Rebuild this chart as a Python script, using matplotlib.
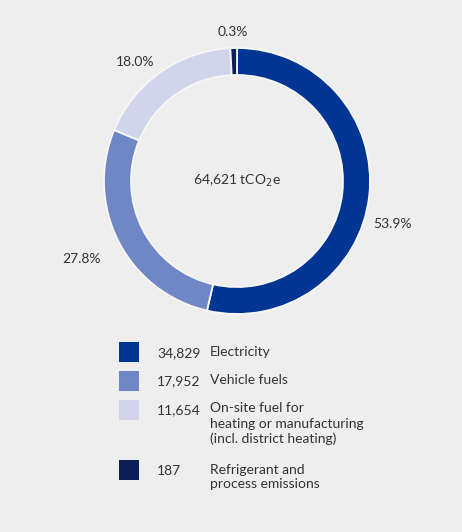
import matplotlib
matplotlib.use("Agg")
import matplotlib.pyplot as plt
from matplotlib.patches import Rectangle

categories = ["Electricity", "Vehicle fuels",
              "On-site fuel for\nheating or manufacturing\n(incl. district heating)",
              "Refrigerant and\nprocess emissions"]
values = [34829, 17952, 11654, 187]
value_labels = ["34,829", "17,952", "11,654", "187"]
pct_labels = ["53.9%", "27.8%", "18.0%", "0.3%"]
total_label = "64,621 tCO$_2$e"
colors = ["#003594", "#6f87c4", "#d0d5ec", "#0b1f56"]

W, H = 462, 532
bg = "#eeeeee"
plt.rcParams['font.family'] = ['Lato', 'DejaVu Sans']

fig = plt.figure(figsize=(W / 100, H / 100), dpi=100, facecolor=bg)
ax = fig.add_axes([0, 0, 1, 1])
ax.set_facecolor(bg)

# minimum visible slice size (as in the reference rendering)
total = sum(values)
disp = [max(v, 0.008 * total) for v in values]

cx, cy, R = 237, H - 181, 133
ax.pie(disp, colors=colors, startangle=90, counterclock=False,
       center=(cx, cy), radius=R, frame=True,
       wedgeprops=dict(width=27, edgecolor="#f7f7f7", linewidth=1.3))
ax.set_xlim(0, W)
ax.set_ylim(0, H)
ax.set_aspect('equal')
ax.axis('off')

txtc = "#333333"
fs = 10
ax.text(cx, cy, total_label, ha='center', va='center', fontsize=fs, color=txtc)

pct_pos = [(392, 224), (82, 259), (135, 62), (233, 32)]
for (x, y), t in zip(pct_pos, pct_labels):
    ax.text(x, H - y, t, ha='center', va='center', fontsize=fs, color=txtc)

row_y = [353, 381, 410, 471]
sq_y = [352, 381, 410, 470]
for i in range(len(values)):
    ax.add_patch(Rectangle((119, H - sq_y[i] - 10), 20, 20, color=colors[i], lw=0))
    ax.text(157, H - row_y[i], value_labels[i], ha='left', va='center', fontsize=fs, color=txtc)
    ax.text(210, H - row_y[i] + 7.5, categories[i], ha='left', va='top', fontsize=fs,
            color=txtc, linespacing=1.3)

fig.savefig("out.png", dpi=100, facecolor=bg)
